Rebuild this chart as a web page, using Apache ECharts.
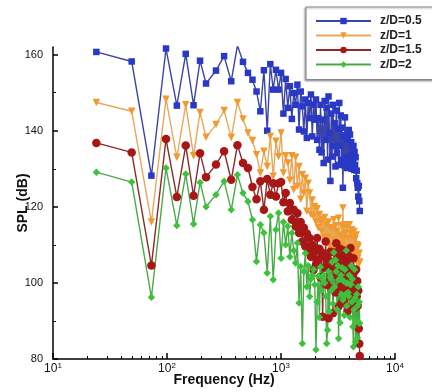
<!DOCTYPE html>
<html><head><meta charset="utf-8">
<script src="https://cdn.jsdelivr.net/npm/echarts@6/dist/echarts.min.js"></script>
<style>html,body{margin:0;padding:0;background:#fff}#c{width:432px;height:392px}</style>
</head><body><div id="c"></div>
<script>
// Frequencies (Hz)
const freq = [
  24, 49, 73, 98, 122, 146, 171, 195, 220, 269,
  317, 366, 415, 464, 513, 562, 610, 659, 708, 757,
  806, 854, 903, 952, 1001, 1050, 1099, 1147, 1196, 1245,
  1294, 1343, 1392, 1440, 1489, 1538, 1587, 1636, 1685, 1733,
  1782, 1831, 1880, 1929, 1978, 2026, 2075, 2124, 2173, 2222,
  2271, 2319, 2368, 2417, 2466, 2515, 2563, 2612, 2661, 2710,
  2759, 2808, 2856, 2905, 2954, 3003, 3052, 3101, 3149, 3198,
  3247, 3296, 3345, 3394, 3442, 3491, 3540, 3589, 3638, 3687,
  3735, 3784, 3833, 3882, 3931, 3979, 4028, 4077, 4126, 4175,
  4224, 4272, 4321, 4370, 4419, 4468, 4517, 4565, 4614, 4663,
  4712, 4761, 4810, 4858, 4907
];
// SPL (dB), z/D = 0.5
const splZD05 = [
  160.7, 158.2, 128.2, 161.6, 146.6, 160.2, 146.7, 158.4, 152.4, 155.8,
  159.6, 153.0, 162.4, 158.1, 155.2, 153.4, 150.3, 145.1, 155.9, 140.0,
  157.5, 150.8, 156.0, 150.8, 155.2, 144.5, 153.6, 146.0, 151.7, 143.1,
  149.9, 146.8, 152.1, 140.3, 150.3, 146.4, 139.8, 148.2, 138.1, 147.3,
  143.3, 149.5, 138.5, 146.8, 142.9, 148.2, 137.6, 143.3, 135.0, 146.8,
  134.3, 142.9, 131.5, 147.8, 137.6, 146.0, 132.4, 149.0, 139.4, 126.8,
  144.5, 133.2, 146.8, 135.9, 142.0, 130.6, 145.3, 134.1, 140.5, 131.0,
  147.3, 136.0, 144.0, 132.4, 140.8, 125.0, 138.5, 130.9, 143.5, 133.0,
  138.8, 130.2, 137.6, 132.0, 140.2, 131.6, 139.0, 133.5, 137.0, 130.0,
  135.5, 132.5, 136.0, 129.7, 134.4, 131.0, 133.0, 127.5, 129.5, 126.2,
  125.0, 122.7, 125.5, 121.5, 118.9
];
// SPL (dB), z/D = 1
const splZD1 = [
  147.4, 145.1, 116.0, 148.3, 133.0, 146.8, 133.4, 144.8, 138.3, 141.6,
  145.3, 138.2, 147.4, 143.1, 139.4, 137.4, 133.7, 128.9, 134.6, 130.6,
  138.5, 128.0, 137.2, 133.2, 139.4, 128.9, 133.4, 131.5, 127.0, 133.4,
  124.5, 133.0, 125.4, 130.6, 122.0, 128.5, 123.6, 127.5, 118.8, 126.2,
  123.6, 118.0, 121.8, 117.5, 120.1, 116.0, 119.5, 114.5, 118.0, 116.1,
  113.5, 116.6, 112.0, 117.2, 110.5, 115.3, 112.0, 116.0, 109.5, 114.5,
  109.5, 114.5, 107.9, 116.6, 111.2, 115.0, 108.5, 113.5, 110.0, 117.0,
  108.0, 112.6, 106.5, 115.0, 110.0, 119.7, 111.8, 115.3, 107.5, 113.1,
  109.0, 114.5, 106.0, 111.8, 108.5, 115.3, 107.0, 113.0, 109.6, 114.0,
  106.5, 112.0, 108.0, 113.5, 106.0, 111.5, 107.8, 112.6, 105.5, 110.0,
  106.5, 109.6, 105.0, 107.8, 105.5
];
// SPL (dB), z/D = 1.5
const splZD15 = [
  136.8, 134.3, 104.6, 137.8, 122.6, 136.1, 122.9, 134.1, 127.8, 131.1,
  134.6, 127.1, 136.2, 131.5, 130.2, 125.2, 122.0, 126.7, 119.2, 127.3,
  123.2, 126.2, 122.7, 126.2, 126.5, 121.2, 123.6, 118.8, 121.0, 116.6,
  119.2, 114.8, 118.3, 113.1, 116.0, 110.9, 114.5, 109.6, 113.0, 108.2,
  111.8, 106.9, 110.0, 103.4, 108.5, 104.7, 111.8, 106.0, 109.0, 101.5,
  108.0, 91.1, 107.0, 104.0, 110.9, 99.5, 106.5, 90.7, 104.0, 108.2,
  98.5, 105.5, 92.0, 103.8, 108.0, 97.5, 110.4, 102.0, 106.5, 93.8,
  104.5, 109.0, 99.0, 107.0, 95.0, 104.0, 108.5, 94.7, 103.5, 106.0,
  98.0, 104.5, 92.5, 101.5, 107.0, 96.5, 103.0, 109.2, 98.5, 104.0,
  94.0, 102.5, 106.5, 97.5, 103.0, 93.5, 98.2, 103.5, 96.4, 100.5,
  94.0, 98.0, 88.0, 84.0, 80.8
];
// SPL (dB), z/D = 2
const splZD2 = [
  129.1, 126.5, 96.2, 130.2, 115.1, 128.6, 115.5, 126.4, 120.0, 123.2,
  126.7, 119.2, 128.4, 123.6, 121.4, 116.6, 105.6, 115.3, 113.2, 102.6,
  117.5, 100.8, 114.0, 118.4, 106.5, 116.0, 110.0, 114.9, 106.9, 113.1,
  108.5, 105.2, 110.5, 94.7, 104.3, 84.1, 103.0, 107.8, 99.0, 104.5,
  96.4, 101.0, 102.0, 103.5, 99.5, 82.4, 95.0, 101.8, 91.0, 104.2,
  98.0, 101.0, 102.0, 100.0, 96.5, 84.1, 87.6, 103.0, 92.5, 101.5,
  98.0, 105.5, 94.5, 108.0, 99.0, 106.0, 103.0, 93.0, 104.5, 85.4,
  101.0, 89.5, 102.0, 97.0, 104.0, 95.5, 100.5, 91.5, 103.5, 97.0,
  108.5, 94.0, 100.0, 97.5, 96.5, 102.0, 91.0, 99.5, 104.5, 95.0,
  101.0, 88.5, 83.2, 93.0, 103.5, 96.0, 84.5, 90.0, 97.0, 85.5,
  94.0, 99.0, 89.5, 95.0, 89.4
];
const seriesNames = ['z/D=0.5', 'z/D=1', 'z/D=1.5', 'z/D=2'];
const yTickValues = [80, 100, 120, 140, 160];
const yMinorTickValues = [90, 110, 130, 150];
const xMinorMantissas = [2, 3, 4, 5, 6, 7, 8, 9];
const xDecades = [10, 100, 1000];

const FONT = "'Liberation Sans', Arial, sans-serif";
const xMinorLog = [];
xDecades.forEach(d => xMinorMantissas.forEach(m => xMinorLog.push(Math.log10(d * m))));

function pairs(arr) { return arr.map((v, i) => [freq[i], v]); }

const styles = [
  { symbol: 'rect', size: 6.5, line: '#3a44a6', fill: '#2a38c6' },
  { symbol: 'path://M0,0 L10,0 L5,9 Z', size: 7.5, line: '#e8a85a', fill: '#f09a30' },
  { symbol: 'circle', size: 8.5, line: '#8a2a2a', fill: '#a81616' },
  { symbol: 'diamond', size: 7.5, line: '#4aaa48', fill: '#3cc23c' }
];
const datasets = [splZD05, splZD1, splZD15, splZD2];

const chart = echarts.init(document.getElementById('c'), null, { renderer: 'canvas' });
chart.setOption({
  animation: false,
  backgroundColor: '#fff',
  textStyle: { fontFamily: FONT },
  grid: { left: 53, right: 37, top: 47, bottom: 33, containLabel: false, outerBoundsMode: 'none' },
  legend: {
    orient: 'vertical', left: 306, top: 7,
    padding: [8, 30, 9, 9],
    itemWidth: 55, itemHeight: 8, itemGap: 2.5,
    borderColor: '#8a8a8a', borderWidth: 1, backgroundColor: '#fff',
    shadowColor: 'rgba(0,0,0,0.35)', shadowBlur: 2, shadowOffsetX: -1, shadowOffsetY: 1,
    textStyle: { fontFamily: FONT, fontSize: 12, fontWeight: 'bold', color: '#222', padding: [0, 0, 0, 4] },
    data: seriesNames
  },
  xAxis: [
    {
      type: 'log', logBase: 10, min: 10, max: 10000,
      axisLine: { lineStyle: { color: '#000', width: 1.5 } },
      axisTick: { inside: true, length: 6, lineStyle: { color: '#000', width: 1.5 } },
      splitLine: { show: false },
      axisLabel: {
        margin: 3, color: '#111',
        formatter: v => '{b|10}{s|' + Math.round(Math.log10(v)) + '}',
        rich: {
          b: { fontSize: 12, fontFamily: FONT, color: '#111' },
          s: { fontSize: 8, fontFamily: FONT, color: '#111', verticalAlign: 'top', padding: [0, 0, 5, 0] }
        }
      },
      name: 'Frequency (Hz)', nameLocation: 'middle', nameGap: 14, nameMoveOverlap: false,
      nameTextStyle: { fontFamily: FONT, fontSize: 14, fontWeight: 'bold', color: '#111' }
    },
    {
      type: 'value', min: 1, max: 4, position: 'bottom',
      axisLine: { show: false }, axisLabel: { show: false }, splitLine: { show: false },
      axisTick: { show: true, inside: true, length: 3, customValues: xMinorLog, lineStyle: { color: '#000', width: 1 } }
    }
  ],
  yAxis: [
    {
      type: 'value', min: 80, max: 162,
      axisLine: { show: true, lineStyle: { color: '#000', width: 1.5 } },
      axisTick: { show: true, inside: true, length: 5, customValues: yTickValues, lineStyle: { color: '#000', width: 1.5 } },
      axisLabel: { customValues: yTickValues, margin: 10, fontSize: 11, color: '#111', fontFamily: FONT },
      splitLine: { show: false },
      name: 'SPL (dB)', nameLocation: 'middle', nameGap: 23, nameRotate: 90, nameMoveOverlap: false,
      nameTextStyle: { fontFamily: FONT, fontSize: 14, fontWeight: 'bold', color: '#111' }
    },
    {
      type: 'value', min: 80, max: 162, position: 'left',
      axisLine: { show: false }, axisLabel: { show: false }, splitLine: { show: false },
      axisTick: { show: true, inside: true, length: 3, customValues: yMinorTickValues, lineStyle: { color: '#000', width: 1 } }
    }
  ],
  series: datasets.map((d, k) => ({
    name: seriesNames[k], type: 'line', xAxisIndex: 0, yAxisIndex: 0,
    data: pairs(d),
    symbol: styles[k].symbol, symbolSize: styles[k].size,
    showSymbol: true, showAllSymbol: true,
    lineStyle: { color: styles[k].line, width: 1.4 },
    itemStyle: { color: styles[k].fill },
    emphasis: { disabled: true }
  }))
});
</script></body></html>
